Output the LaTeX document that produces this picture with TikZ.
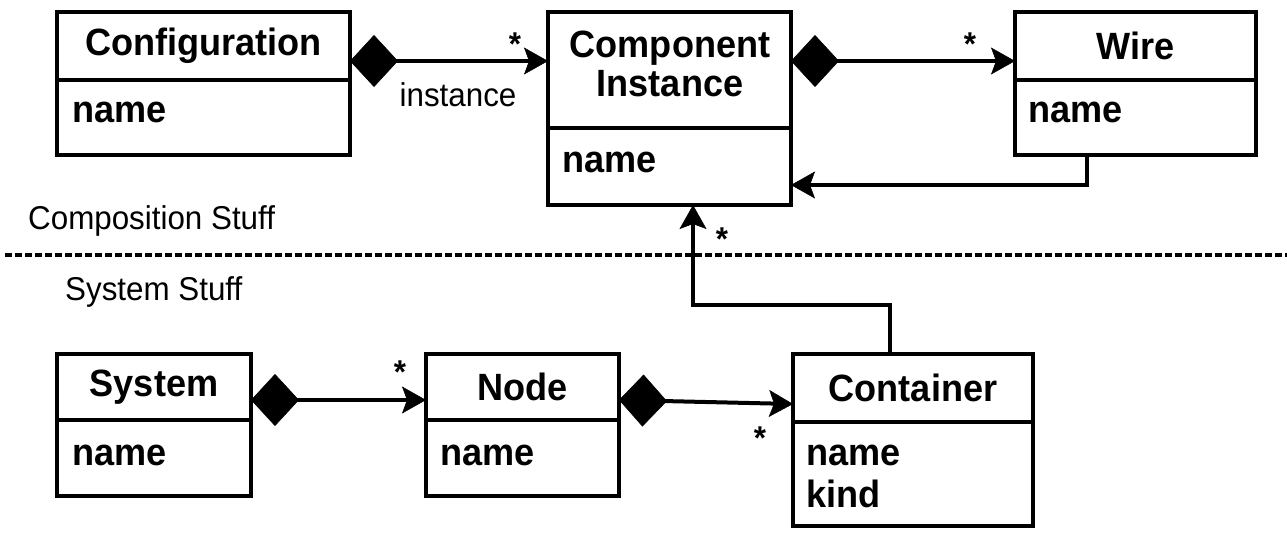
\documentclass[tikz,border=0pt]{standalone}
\usepackage{fontspec}
\setmainfont{Liberation Sans}[FakeStretch=0.95]
\usetikzlibrary{arrows.meta}
\begin{document}
\begin{tikzpicture}[x=1pt,y=-1pt,
  box/.style={draw, line width=4pt, outer sep=0pt, inner sep=0pt, anchor=north west},
  hdr/.style={box, font=\fontsize{38}{40}\selectfont\bfseries, align=center},
  ttl/.style={inner sep=0pt, anchor=base, font=\fontsize{38}{40}\selectfont\bfseries},
  attr/.style={anchor=base west, inner sep=0pt, font=\fontsize{38}{42}\selectfont\bfseries},
  lbl/.style={inner sep=0pt, anchor=base, font=\fontsize{33}{36}\selectfont},
  side/.style={inner sep=0pt, anchor=base west, font=\fontsize{33}{36}\selectfont},
  star/.style={inner sep=0pt, anchor=base, font=\fontsize{33}{36}\selectfont\bfseries},
  comp/.style={line width=4pt, {Diamond[length=48pt,width=52pt,line width=0.5pt]}-{Stealth[length=24pt,width=27pt,inset=5pt,line width=0.5pt]}},
  arr/.style={line width=4pt, -{Stealth[length=24pt,width=27pt,inset=5pt,line width=0.5pt]}},
  sep/.style={line width=4pt, dash pattern=on 7pt off 3pt},
]
\useasboundingbox (0,0) rectangle (1287,539);

% Configuration
\node[hdr, minimum width=293pt, minimum height=68pt] (confh) at (57,12) {Configuration};
\node[box, minimum width=293pt, minimum height=75pt] (confb) at (57,80) {};
\node[attr] (confn) at (72,122) {name};

% Component Instance
\node[box, minimum width=243pt, minimum height=116pt] (comph) at (548,12) {};
\node[ttl] (compt1) at (670,57) {Component};
\node[ttl] (compt2) at (670,96) {Instance};
\node[box, minimum width=243pt, minimum height=77pt] (compb) at (548,128) {};
\node[attr] (compn) at (562,172) {name};

% Wire
\node[hdr, minimum width=241pt, minimum height=68pt] (wireh) at (1015,12) {Wire};
\node[box, minimum width=241pt, minimum height=75pt] (wireb) at (1015,80) {};
\node[attr] (wiren) at (1028,122) {name};

% System
\node[hdr, minimum width=194pt, minimum height=66pt] (sysh) at (57,354) {System};
\node[box, minimum width=194pt, minimum height=76pt] (sysb) at (57,420) {};
\node[attr] (sysn) at (72,465) {name};

% Node
\node[hdr, minimum width=193pt, minimum height=66pt] (nodeh) at (426,354) {Node};
\node[box, minimum width=193pt, minimum height=76pt] (nodeb) at (426,420) {};
\node[attr] (noden) at (440,465) {name};

% Container
\node[hdr, minimum width=240pt, minimum height=68pt] (conth) at (793,354) {Container};
\node[box, minimum width=240pt, minimum height=104pt] (contb) at (793,422) {};
\node[attr] (contn) at (806,465) {name};
\node[attr] (contk) at (806,507) {kind};

% separator
\coordinate (sepl) at (5,255);
\coordinate (sepr) at (1287,255);
\draw[sep] (sepl) -- (sepr);
\node[side] (comptxt) at (28,229) {Composition Stuff};
\node[side] (systxt) at (65,300) {System Stuff};

% connectors
\draw[comp] (confh.east |- 0,61) -- (comph.west |- 0,61);
\node[lbl] (inst) at (458,106) {instance};
\node[star] (s1) at (515,55) {*};

\draw[comp] (comph.east |- 0,61) -- (wireh.west |- 0,61);
\node[star] (s2) at (970,55) {*};

\draw[arr] (1087,0 |- wireb.south) |- (compb.east |- 0,185);

\coordinate (bend) at (693,305);
\draw[arr] (890,0 |- conth.north) |- (bend) -- (693,0 |- compb.south);
\node[star] (s3) at (722,250) {*};

\draw[comp] (sysh.east |- 0,400) -- (nodeh.west |- 0,400);
\node[star] (s4) at (400,383) {*};

\draw[comp] (nodeh.east |- 0,400) -- (conth.west |- 0,404);
\node[star] (s5) at (760,449) {*};
\end{tikzpicture}
\end{document}
